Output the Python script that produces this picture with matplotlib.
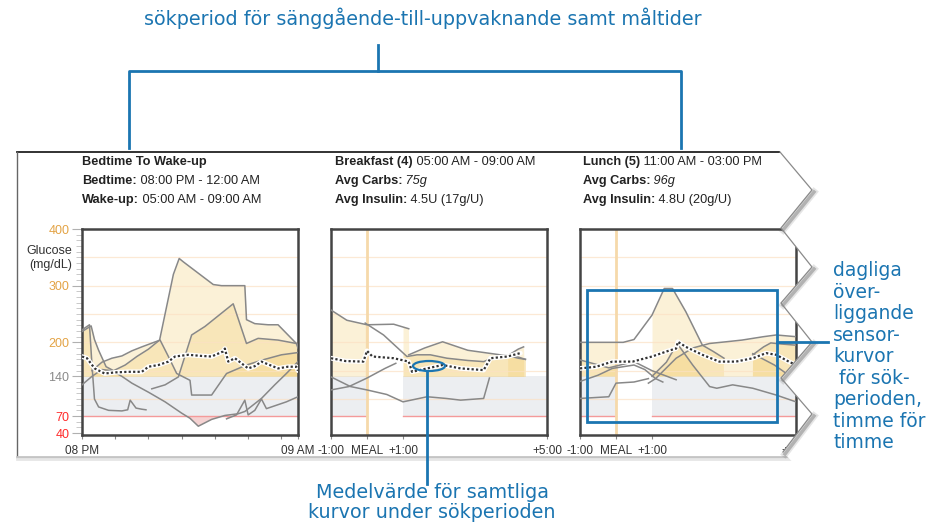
import numpy as np
import matplotlib.pyplot as plt
from matplotlib.patches import Polygon, Ellipse, Rectangle

W, H = 932, 524
BLUE = '#1b75b1'

# ---- sensor data (hours, mg/dL) ----
# bedtime to wake-up: hours after 08 PM
bed_c1_t = [0, 0.55, 0.75, 1.0, 1.45, 1.9, 2.6, 3.3, 4.0, 4.67, 5.5, 5.85, 6.1, 7.9, 8.4, 9.8, 9.9, 10.4, 11.2, 11.8, 12.6, 13.0]
bed_c1_g = [219, 229, 205, 186, 157, 150, 160, 175, 188, 204, 320, 348, 342, 302, 300, 300, 240, 233, 231, 231, 207, 195]
bed_c2_t = [4.2, 5.0, 5.8, 6.6, 7.4, 9.1, 9.9, 10.6, 11.8, 12.9, 13.0]
bed_c2_g = [118, 125, 139, 213, 228, 268, 198, 207, 204, 198, 190]
bed_c3_t = [0, 0.6, 1.2, 1.8, 2.4, 3.0, 4.0, 5.0, 6.0, 6.5, 7.0, 7.8, 8.6, 9.4, 9.8, 10.8, 11.6, 12.3, 13.0]
bed_c3_g = [125, 140, 152, 150, 140, 128, 112, 95, 75, 66, 52, 64, 71, 74, 78, 101, 125, 145, 166]
bed_c4_t = [0, 0.45, 0.6, 0.75, 1.0, 1.6, 2.4, 2.75, 2.9, 3.25, 3.6, 3.85]
bed_c4_g = [222, 231, 160, 100, 86, 80, 79, 81, 98, 84, 82, 81]
bed_c5_t = [0.6, 1.2, 1.8, 2.4, 3.0, 3.6, 4.7, 5.2, 5.7, 6.5, 6.6, 7.8, 8.7, 9.9, 11.0, 12.0, 13.0]
bed_c5_g = [150, 165, 172, 176, 185, 192, 204, 175, 145, 133, 107, 107, 145, 160, 170, 178, 182]
bed_c6_t = [8.7, 9.3, 9.8, 10.0, 10.4, 10.8, 11.1, 11.6, 12.3, 13.0]
bed_c6_g = [65, 72, 98, 72, 80, 100, 83, 88, 95, 104]
bed_mean_t = [0, 0.3, 0.76, 1.36, 2.0, 2.8, 3.6, 4.0, 4.6, 5.2, 5.6, 6.4, 7.2, 7.8, 8.5, 8.6, 8.8, 9.2, 10.0, 10.4, 10.8, 11.3, 11.8, 12.4, 12.9, 13.0]
bed_mean_g = [175, 172, 154, 145, 147, 148, 148, 157, 160, 166, 175, 178, 176, 175, 184, 189, 166, 172, 154, 158, 166, 160, 154, 157, 157, 150]

# breakfast: hours around the meal
bf_c1_t = [-1, -0.56, 0, 0.74, 1.16]
bf_c1_g = [257, 239, 231, 232, 224]
bf_c2_t = [-0.05, 0.46, 1.11, 1.39, 1.76, 2.22, 2.8, 3.24, 3.6, 4.0, 4.4]
bf_c2_g = [234, 213, 175, 178, 178, 172, 168, 166, 175, 178, 170]
bf_c3_t = [1.16, 1.6, 2.1, 2.8, 3.7, 3.95, 4.2, 4.4]
bf_c3_g = [178, 190, 201, 186, 178, 176, 172, 170]
bf_c4_t = [-1, -0.5, 0, 0.5, 0.8]
bf_c4_g = [116, 122, 137, 154, 163]
bf_c5_t = [-1, -0.46, 0, 0.55, 1.0, 1.67, 2.2, 2.6, 3.24, 3.4]
bf_c5_g = [139, 122, 116, 108, 95, 104, 101, 98, 101, 137]
bf_c6_t = [3.9, 4.2, 4.35]
bf_c6_g = [176, 188, 192]
bf_mean_t = [-1, -0.6, -0.1, 0, 0.15, 0.74, 1.16, 1.25, 1.67, 2.1, 2.6, 3.24, 3.43, 3.9, 4.26]
bf_mean_g = [172, 167, 166, 185, 175, 172, 166, 148, 154, 160, 154, 151, 172, 175, 181]

# lunch: hours around the meal
lu_c1_t = [-1, -0.3, 0.2, 0.5, 1.0, 1.34, 1.57, 1.94, 2.4, 2.7, 3.0]
lu_c1_g = [200, 200, 200, 205, 248, 295, 295, 254, 195, 184, 172]
lu_c2_t = [0.9, 1.1, 1.67, 2.13, 2.6, 3.06, 3.5, 4.1, 4.45, 5.0]
lu_c2_g = [128, 136, 172, 190, 198, 201, 204, 210, 213, 210]
lu_c3_t = [1.0, 1.4, 1.7, 2.13, 2.6, 2.8, 3.24, 3.8, 4.45, 5.0]
lu_c3_g = [140, 165, 198, 160, 122, 119, 125, 119, 107, 95]
lu_c4_t = [3.8, 4.1, 4.3, 4.6, 5.0]
lu_c4_g = [178, 192, 199, 197, 195]
lu_c5_t = [3.8, 4.4, 4.8, 5.0]
lu_c5_g = [180, 160, 142, 135]
lu_c6_t = [-1, -0.2, 0, 0.5, 0.9]
lu_c6_g = [101, 104, 128, 130, 136]
lu_c7_t = [-1, -0.5, -0.1, 0.5, 0.8, 1.1, 1.3]
lu_c7_g = [131, 142, 154, 160, 152, 136, 130]
lu_c8_t = [-1, -0.2, 0.5, 1.0, 1.67]
lu_c8_g = [169, 155, 166, 150, 134]
lu_mean_t = [-1, -0.55, -0.1, 0.46, 1.0, 1.5, 1.67, 1.72, 1.94, 2.4, 2.87, 3.33, 3.8, 4.17, 4.45, 4.8, 5.0]
lu_mean_g = [154, 157, 166, 166, 175, 186, 189, 201, 192, 178, 166, 166, 172, 181, 178, 166, 160]

bed_curves = [(bed_c1_t, bed_c1_g), (bed_c2_t, bed_c2_g), (bed_c3_t, bed_c3_g),
              (bed_c4_t, bed_c4_g), (bed_c5_t, bed_c5_g), (bed_c6_t, bed_c6_g)]
bf_curves = [(bf_c1_t, bf_c1_g), (bf_c2_t, bf_c2_g), (bf_c3_t, bf_c3_g),
             (bf_c4_t, bf_c4_g), (bf_c5_t, bf_c5_g), (bf_c6_t, bf_c6_g)]
lu_curves = [(lu_c1_t, lu_c1_g), (lu_c2_t, lu_c2_g), (lu_c3_t, lu_c3_g), (lu_c4_t, lu_c4_g),
             (lu_c5_t, lu_c5_g), (lu_c6_t, lu_c6_g), (lu_c7_t, lu_c7_g), (lu_c8_t, lu_c8_g)]

y_ticks = [40, 70, 140, 200, 300, 400]
y_tick_colors = ['#ff2a2a', '#ff2a2a', '#8a8a8a', '#e3a345', '#e3a345', '#e3a345']
target_lo, target_hi = 70, 140

headers = [
    (82, [[('Bedtime To Wake-up', 'bold', 'normal')],
          [('Bedtime:', 'bold', 'normal'), (' 08:00 PM - 12:00 AM', 'normal', 'normal')],
          [('Wake-up:', 'bold', 'normal'), (' 05:00 AM - 09:00 AM', 'normal', 'normal')]]),
    (335, [[('Breakfast (4)', 'bold', 'normal'), (' 05:00 AM - 09:00 AM', 'normal', 'normal')],
           [('Avg Carbs:', 'bold', 'normal'), (' 75g', 'normal', 'italic')],
           [('Avg Insulin:', 'bold', 'normal'), (' 4.5U (17g/U)', 'normal', 'normal')]]),
    (583, [[('Lunch (5)', 'bold', 'normal'), (' 11:00 AM - 03:00 PM', 'normal', 'normal')],
           [('Avg Carbs:', 'bold', 'normal'), (' 96g', 'normal', 'italic')],
           [('Avg Insulin:', 'bold', 'normal'), (' 4.8U (20g/U)', 'normal', 'normal')]]),
]

plt.rcParams['font.family'] = ['Liberation Sans', 'DejaVu Sans']

fig = plt.figure(figsize=(W / 100, H / 100), dpi=100)


def px_axes(left, top, width, height):
    return fig.add_axes([left / W, 1 - (top + height) / H, width / W, height / H])


def stacked(curves, lo, hi, n=400):
    # curves resampled on a common grid, highest first; nan where a day has no data
    grid = np.linspace(lo, hi, n)
    rows = []
    for t, g in curves:
        t = np.asarray(t, float)
        v = np.interp(grid, t, g)
        v[(grid < t[0]) | (grid > t[-1])] = np.nan
        rows.append(v)
    rows = np.array(rows)
    return grid, -np.sort(-rows, axis=0), np.sort(rows, axis=0)[0]


def draw_panel(ax, curves, mean_t, mean_g, windows, xlim, meal=False):
    ax.set_xlim(*xlim)
    ax.set_ylim(36.5, 400)
    for a, b in windows:
        ax.fill_between([a, b], target_lo, target_hi, color='#eceef1', lw=0, zorder=1)
        ax.plot([a, b], [target_lo, target_lo], color='#f49a9a', lw=1, zorder=2)
        grid, desc, low = stacked(curves, a, b)
        # one translucent layer per day above target -> overlap gets darker
        for row in desc:
            ax.fill_between(grid, target_hi, row, where=row > target_hi, interpolate=True,
                            color='#f2c860', alpha=0.25, lw=0, zorder=1.2)
        ax.fill_between(grid, low, target_lo, where=low < target_lo, interpolate=True,
                        color='#f5d2d2', lw=0, zorder=1.3)
    for y in [100, 150, 200, 250, 300, 350]:
        ax.axhline(y, color='#fbe1c4', lw=0.9, alpha=0.7, zorder=1.5)
    if meal:
        ax.axvline(0, color='#f6d9aa', lw=2, zorder=2.5)
    for t, g in curves:
        ax.plot(t, g, color='#888888', lw=1.1, zorder=3)
    ax.plot(mean_t, mean_g, color='white', lw=3.4, zorder=4, solid_capstyle='round')
    ax.plot(mean_t, mean_g, color='#333333', lw=1.6, ls=(0, (1, 1)), zorder=5)
    for s in ax.spines.values():
        s.set_color('#444444')
        s.set_linewidth(1.8)
    ax.tick_params(axis='x', length=3, color='#888888', labelsize=8.5,
                   labelcolor='#333333', pad=4)


# bedtime panel
p1 = px_axes(82, 229, 216, 206)
draw_panel(p1, bed_curves, bed_mean_t, bed_mean_g, [(0, 13)], (0, 13))
p1.set_xticks([0, 2, 4, 6, 8, 10, 12, 13])
p1.set_xticklabels(['08 PM', '', '', '', '', '', '', '09 AM'])
p1.set_yticks(y_ticks)
p1.set_yticklabels([str(v) for v in y_ticks], fontsize=9)
for lab, c in zip(p1.get_yticklabels(), y_tick_colors):
    lab.set_color(c)
p1.set_yticks(np.arange(40, 401, 10), minor=True)
p1.tick_params(axis='y', which='major', length=7, color='#b0b0b0', pad=2)
p1.tick_params(axis='y', which='minor', length=4, color='#c0c0c0')

# breakfast and lunch panels
meal_ticks = [-1, 0, 1, 5]
meal_labels = ['-1:00', 'MEAL', '+1:00', '+5:00']
for left, curves, mt, mg in [(331, bf_curves, bf_mean_t, bf_mean_g),
                             (580, lu_curves, lu_mean_t, lu_mean_g)]:
    ax = px_axes(left, 229, 216, 206)
    draw_panel(ax, curves, mt, mg, [(-1, 0), (1, 5)], (-1, 5), meal=True)
    ax.set_xticks(meal_ticks)
    ax.set_xticklabels(meal_labels)
    ax.set_yticks([])

# overlay in pixel coordinates
ov = fig.add_axes([0, 0, 1, 1])
ov.set_xlim(0, W)
ov.set_ylim(H, 0)
ov.axis('off')

ov.text(72, 258, 'Glucose\n(mg/dL)', ha='right', va='center', fontsize=9,
        color='#333333', linespacing=1.25)

# panel headers, bold label followed by plain value
renderer = fig.canvas.get_renderer()
for x0, lines in headers:
    for i, parts in enumerate(lines):
        x = x0
        y = 162 + i * 19
        for txt, weight, style in parts:
            t = ov.text(x, y, txt, fontsize=9.2, fontweight=weight, fontstyle=style,
                        color='#222222', va='center', ha='left')
            x = t.get_window_extent(renderer=renderer).x1

# screenshot frame
ov.plot([17, 781], [152, 152], color='#222222', lw=1.3)
ov.plot([17, 17], [152, 456], color='#666666', lw=1)
ov.plot([17, 792], [456.5, 456.5], color='#c4c4c4', lw=2)
ov.plot([17, 792], [458.5, 458.5], color='#e6e6e6', lw=2)

# torn right edge
zig_x = [780, 812, 781, 812, 781, 812, 781, 812, 783]
zig_y = [152, 190, 228, 267, 303, 342, 378, 414, 452]
cover = list(zip(zig_x, zig_y)) + [(800, 470), (W, 470), (W, 148), (780, 148)]
ov.add_patch(Polygon(cover, closed=True, fc='white', ec='none', zorder=5))
for i in range(len(zig_x) - 1):
    if zig_x[i + 1] < zig_x[i]:
        xs = [zig_x[i] + 2, zig_x[i + 1] + 2]
        ys = [zig_y[i] + 2, zig_y[i + 1] + 2]
        ov.plot(xs, ys, color='#555555', lw=5, alpha=0.15, zorder=6)
        ov.plot(xs, ys, color='#555555', lw=2.5, alpha=0.35, zorder=6)
ov.plot(zig_x, zig_y, color='#8a8a8a', lw=0.9, zorder=7)

# blue callouts
ov.text(423, 18, 'sökperiod för sänggående-till-uppvaknande samt måltider',
        ha='center', va='center', fontsize=13.8, color=BLUE, family='DejaVu Sans')
ov.plot([378, 378], [45, 71], color=BLUE, lw=2, zorder=8)
ov.plot([129, 129, 681, 681], [148, 71, 71, 148], color=BLUE, lw=2, zorder=8)

ov.add_patch(Rectangle((587, 290), 190, 132, fill=False, ec=BLUE, lw=2, zorder=8))
ov.plot([777, 828], [342, 342], color=BLUE, lw=2, zorder=8)
ov.text(833, 261, 'dagliga\növer-\nliggande\nsensor-\nkurvor\n för sök-\nperioden,\ntimme för\ntimme',
        ha='left', va='top', fontsize=13.5, color=BLUE, family='DejaVu Sans',
        linespacing=1.17, zorder=8)

ov.add_patch(Ellipse((429, 366), 32, 10, fill=False, ec=BLUE, lw=1.6, zorder=8))
ov.plot([427, 427], [371, 484], color=BLUE, lw=2, zorder=8)
ov.text(432, 493, 'Medelvärde för samtliga', ha='center', va='center', fontsize=13.8,
        color=BLUE, family='DejaVu Sans', zorder=8)
ov.text(432, 513, 'kurvor under sökperioden', ha='center', va='center', fontsize=13.8,
        color=BLUE, family='DejaVu Sans', zorder=8)

fig.savefig('out.png', dpi=100)
